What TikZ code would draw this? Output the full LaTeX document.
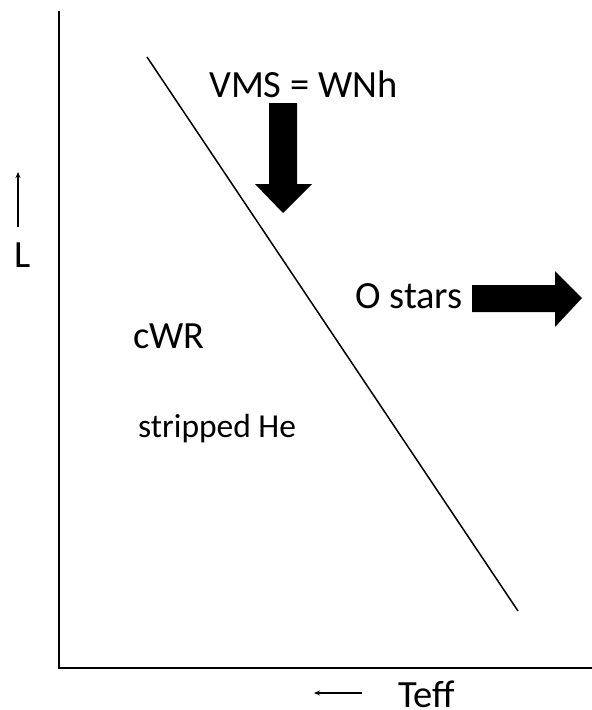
\documentclass[tikz,border=0pt]{standalone}
\usepackage{fontspec}
\setmainfont{Carlito}
\usetikzlibrary{arrows.meta}
\begin{document}
\begin{tikzpicture}[x=1pt,y=-1pt,
  lbl/.style={inner sep=0pt,anchor=base west,font=\fontsize{38.5}{44}\selectfont},
  small/.style={inner sep=0pt,anchor=base west,font=\fontsize{33.5}{40}\selectfont},
  axis/.style={line width=2pt},
  blockarrow/.style={fill=black,draw=none},
  thinarrow/.style={line width=1.2pt,-{Stealth[length=6pt,width=5pt]}}]
\useasboundingbox (0,0) rectangle (592,710);
% axes
\coordinate (top) at (59,12);
\coordinate (origin) at (59,668);
\coordinate (right) at (592,668);
\draw[axis,line cap=rect] (top) -- (origin) -- (right);
% diagonal
\coordinate (d1) at (147,57);
\coordinate (d2) at (518,611);
\draw[line width=1.5pt] (d1) -- (d2);
% labels
\node[lbl] (vms) at (209,97) {VMS = WNh};
\node[lbl] (ostars) at (355,308) {O stars};
\node[lbl] (cwr) at (133,348) {cWR};
\node[small] (strip) at (138,437) {stripped He};
\node[lbl] (teff) at (398,707) {Teff};
\node[lbl] (L) at (14,267) {L};
% block arrows
\fill[blockarrow] (269,103) -- (297,103) -- (297,184) -- (312,184) -- (283,213) -- (255,184) -- (269,184) -- cycle;
\fill[blockarrow] (472,285) -- (555,285) -- (555,271) -- (582,298) -- (555,327) -- (555,312) -- (472,312) -- cycle;
% small arrows
\coordinate (La) at (18,227);
\coordinate (Lb) at (18,172);
\draw[thinarrow] (La) -- (Lb);
\coordinate (Ta) at (362,693);
\coordinate (Tb) at (314,693);
\draw[thinarrow] (Ta) -- (Tb);
\end{tikzpicture}
\end{document}
